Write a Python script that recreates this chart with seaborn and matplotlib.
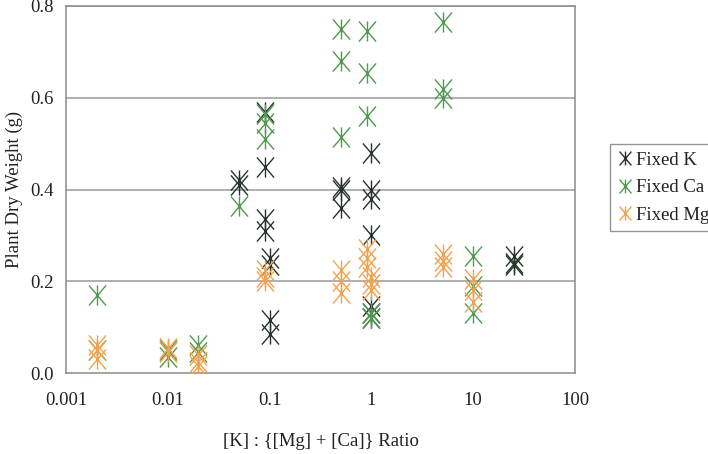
import matplotlib
matplotlib.use("Agg")
import matplotlib.pyplot as plt
from matplotlib.path import Path
import seaborn as sns
import pandas as pd

# ---- data ----
k_ratio = [0.05, 0.05, 0.09, 0.09, 0.09, 0.09, 0.1, 0.1, 0.1, 0.1,
           0.5, 0.5, 0.5, 1.0, 1.0, 1.0, 1.0, 1.0, 1.0, 1.0, 25, 25, 25]
k_weight = [0.42, 0.41, 0.57, 0.45, 0.335, 0.31, 0.25, 0.235, 0.115, 0.085,
            0.405, 0.40, 0.36, 0.48, 0.40, 0.38, 0.30, 0.145, 0.13, 0.12, 0.255, 0.24, 0.235]

ca_ratio = [0.002, 0.002, 0.01, 0.01, 0.02, 0.02, 0.05, 0.09, 0.09, 0.09,
            0.5, 0.5, 0.5, 0.9, 0.9, 0.9, 1.0, 1.0, 5, 5, 5, 10, 10, 10]
ca_weight = [0.17, 0.05, 0.05, 0.035, 0.06, 0.045, 0.365, 0.565, 0.545, 0.51,
             0.75, 0.68, 0.515, 0.745, 0.655, 0.56, 0.13, 0.12, 0.765, 0.62, 0.60, 0.255, 0.19, 0.13]

mg_ratio = [0.002, 0.002, 0.002, 0.01, 0.01, 0.02, 0.02, 0.02,
            0.09, 0.09, 0.09, 0.5, 0.5, 0.5, 0.9, 0.9, 0.9, 1.0, 1.0, 1.0,
            5, 5, 5, 10, 10, 10]
mg_weight = [0.06, 0.05, 0.03, 0.055, 0.045, 0.04, 0.025, 0.015,
             0.225, 0.21, 0.20, 0.225, 0.20, 0.175, 0.27, 0.25, 0.23, 0.21, 0.195, 0.18,
             0.26, 0.245, 0.23, 0.205, 0.18, 0.155]

series_names = ["Fixed K", "Fixed Ca", "Fixed Mg"]
series_colors = ["#27342b", "#4f9a4f", "#f2a24e"]

x_ticks = [0.001, 0.01, 0.1, 1, 10, 100]
x_tick_labels = ["0.001", "0.01", "0.1", "1", "10", "100"]
y_ticks = [0.0, 0.2, 0.4, 0.6, 0.8]
y_tick_labels = ["0.0", "0.2", "0.4", "0.6", "0.8"]

# ---- build frame ----
df = pd.concat([
    pd.DataFrame({"ratio": k_ratio, "weight": k_weight, "series": series_names[0]}),
    pd.DataFrame({"ratio": ca_ratio, "weight": ca_weight, "series": series_names[1]}),
    pd.DataFrame({"ratio": mg_ratio, "weight": mg_weight, "series": series_names[2]}),
], ignore_index=True)

sns.set_theme(style="white")
plt.rcParams["font.family"] = ["Liberation Serif", "DejaVu Serif"]

# six-armed asterisk marker (vertical bar + X)
star = Path(
    [(0, -1), (0, 1), (-0.85, -1), (0.85, 1), (-0.85, 1), (0.85, -1)],
    [Path.MOVETO, Path.LINETO, Path.MOVETO, Path.LINETO, Path.MOVETO, Path.LINETO],
)

FS = 13.5
TXT = "#222222"

fig = plt.figure(figsize=(7.08, 4.54), dpi=100)
ax = fig.add_axes([66 / 708, 1 - 373 / 454, (575 - 66) / 708, (373 - 6) / 454])

for name, col in zip(series_names, series_colors):
    sub = df[df["series"] == name]
    sns.scatterplot(data=sub, x="ratio", y="weight", ax=ax, marker=star,
                    s=210, color=col, edgecolor=col, linewidth=1.0,
                    label=name, legend=False, zorder=3)

ax.set_xscale("log")
ax.set_xlim(0.001, 100)
ax.set_ylim(0, 0.8)
ax.set_xticks(x_ticks)
ax.set_xticklabels(x_tick_labels)
ax.set_yticks(y_ticks)
ax.set_yticklabels(y_tick_labels)
ax.minorticks_off()
ax.tick_params(axis="both", which="major", direction="out", length=5, width=1,
               color="#8a8a8a", labelsize=FS, labelcolor=TXT, pad=4)
ax.tick_params(axis="x", pad=9)

ax.grid(False)
for yv in y_ticks[1:]:
    ax.axhline(yv, color="#9a9a9a", lw=1.1, zorder=1)
for sp in ax.spines.values():
    sp.set_color("#8a8a8a")
    sp.set_linewidth(1.1)

ax.set_xlabel("[K] : {[Mg] + [Ca]} Ratio", fontsize=FS, color=TXT, labelpad=17)
ax.set_ylabel("Plant Dry Weight (g)", fontsize=FS, color=TXT, labelpad=5)

handles = [plt.Line2D([], [], marker=star, ls="none", color=c, markersize=10,
                      markeredgewidth=1.0) for c in series_colors]
leg = fig.legend(handles, series_names, loc="upper left",
                 bbox_to_anchor=(610 / 708, 1 - 144 / 454),
                 borderaxespad=0.0,
                 frameon=True, fancybox=False, fontsize=FS,
                 handlelength=0.8, handletextpad=0.2, borderpad=0.4,
                 labelspacing=0.55)
leg.get_frame().set_edgecolor("#7a7a7a")
leg.get_frame().set_linewidth(1.0)
for t in leg.get_texts():
    t.set_color(TXT)

fig.savefig("out.png", dpi=100)
